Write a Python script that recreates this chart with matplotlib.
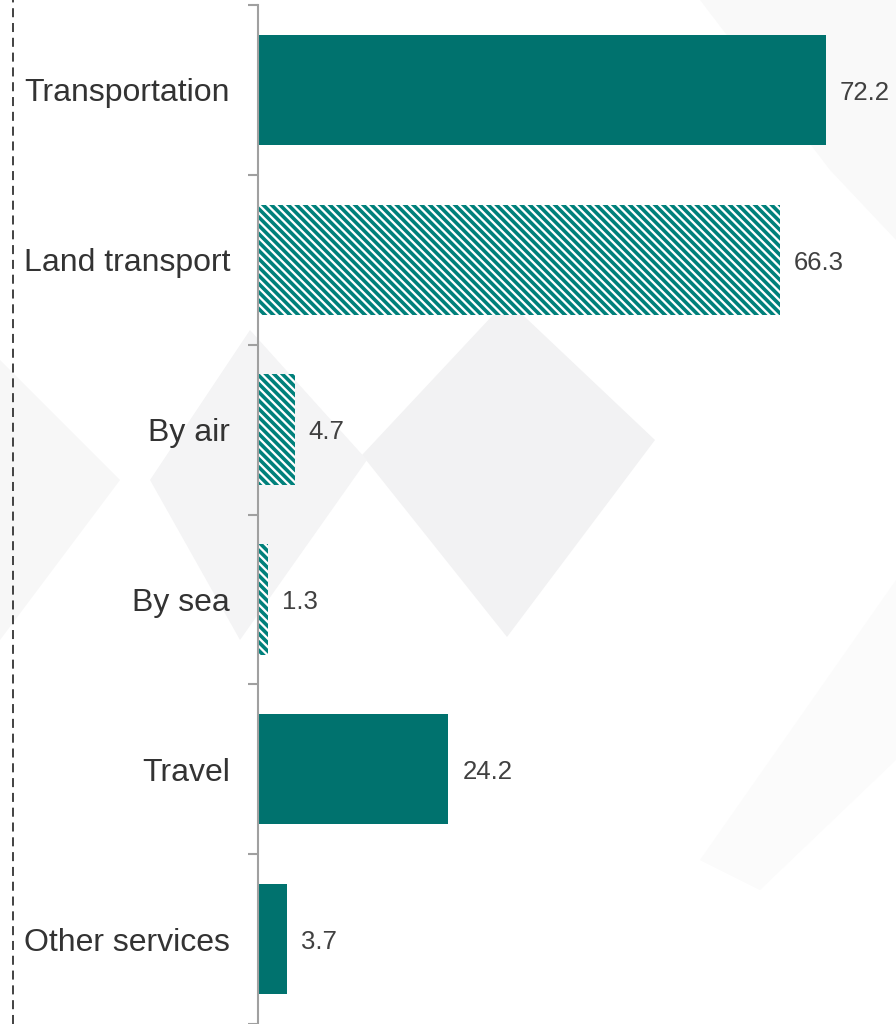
import matplotlib.pyplot as plt
from matplotlib.patches import Polygon
from matplotlib.lines import Line2D

plt.rcParams['font.family'] = ['Liberation Sans', 'DejaVu Sans']
plt.rcParams['hatch.linewidth'] = 2.6

categories = ['Transportation', 'Land transport', 'By air', 'By sea', 'Travel', 'Other services']
values = [72.2, 66.3, 4.7, 1.3, 24.2, 3.7]
hatched = [False, True, True, True, False, False]

teal = '#00726e'
teal_hatch = '#00807b'

fig = plt.figure(figsize=(8.96, 10.24), dpi=100)
fig.patch.set_facecolor('white')

# faint diamond shapes in the background (pixel coords, origin top-left)
W, H = 896, 1024
shapes = [
    ([(507, 300), (655, 440), (507, 637), (362, 455)], '#f2f2f3'),
    ([(250, 330), (367, 460), (240, 640), (150, 480)], '#f4f4f5'),
    ([(0, 360), (120, 480), (0, 640)], '#f7f7f7'),
    ([(700, 0), (896, 0), (896, 240), (830, 170)], '#f9f9f9'),
    ([(896, 580), (896, 760), (760, 890), (700, 860)], '#fbfbfb'),
]
for pts, col in shapes:
    fig.patches.append(Polygon([(x / W, 1 - y / H) for x, y in pts], closed=True,
                               transform=fig.transFigure, facecolor=col,
                               edgecolor='none', zorder=0))

fig.add_artist(Line2D([13 / W, 13 / W], [0, 1], transform=fig.transFigure,
                      color='#333333', lw=1.3, linestyle=(0, (5, 3.2))))

ax = fig.add_axes([258 / W, 0, 1 - 258 / W, 1 - 5 / H])
ax.set_facecolor('none')
ax.set_zorder(2)

ypos = list(range(len(categories)))
for y, v, h in zip(ypos, values, hatched):
    if h:
        ax.barh(y, v, height=0.65, color='white', edgecolor=teal_hatch,
                hatch='\\\\\\\\', linewidth=0, zorder=2)
    else:
        ax.barh(y, v, height=0.65, color=teal, linewidth=0, zorder=2)
    ax.annotate(f'{v:.1f}', xy=(v, y), xytext=(10, -2), textcoords='offset points',
                ha='left', va='center', fontsize=18.5, color='#404040',
                annotation_clip=False)

ax.set_xlim(0, 81.1)
ax.set_ylim(len(categories) - 0.5, -0.5)

ax.set_yticks(ypos)
ax.set_yticklabels(categories, fontsize=23, color='#333333')
ax.tick_params(axis='y', which='major', length=0, pad=20)
ax.set_yticks([y - 0.5 for y in ypos] + [len(categories) - 0.5], minor=True)
ax.tick_params(axis='y', which='minor', length=7.5, width=1.5, color='#a0a0a0')
ax.set_xticks([])

for side in ['top', 'right', 'bottom']:
    ax.spines[side].set_visible(False)
ax.spines['left'].set_color('#a0a0a0')
ax.spines['left'].set_linewidth(1.5)

fig.savefig('out.png', dpi=100)
